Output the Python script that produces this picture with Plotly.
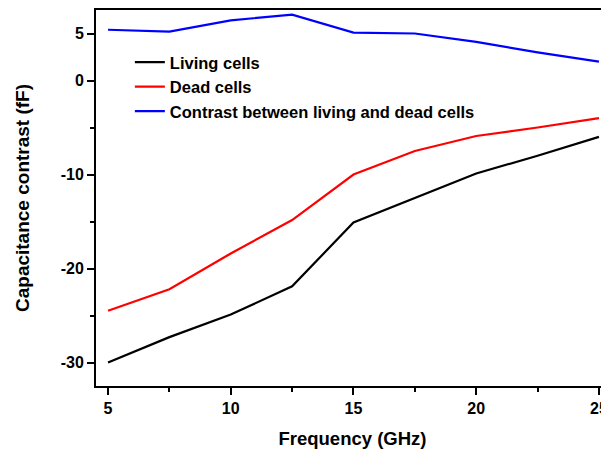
import plotly.graph_objects as go

freq = [5, 7.5, 10, 12.5, 15, 17.5, 20, 22.5, 25]
living = [-30.0, -27.3, -24.9, -21.9, -15.1, -12.5, -9.9, -8.0, -6.0]
dead = [-24.5, -22.2, -18.4, -14.85, -10.0, -7.5, -5.9, -5.0, -4.0]
contrast = [5.4, 5.2, 6.4, 7.0, 5.1, 5.0, 4.1, 3.0, 2.0]

names = ["Living cells", "Dead cells", "Contrast between living and dead cells"]
colors = ["black", "#ff0000", "#0000ff"]

x_ticks = [5, 10, 15, 20, 25]
x_ticktext = ["5", "10", "15", "20", "25"]
y_ticks = [5, 0, -10, -20, -30]
y_ticktext = ["5", "0", "-10", "-20", "-30"]

FONT = "Liberation Sans, Arial, sans-serif"

fig = go.Figure()
for name, ys, c in zip(names, [living, dead, contrast], colors):
    fig.add_trace(go.Scatter(x=freq, y=ys, mode="lines", name=name,
                             line=dict(color=c, width=2.2)))

# page body has an 8px default margin; figure is sized/offset to compensate
fig.update_layout(
    width=601, height=442,
    margin=dict(l=88, r=0, t=2, b=64),
    paper_bgcolor="white", plot_bgcolor="white",
    font=dict(family=FONT, color="black"),
    showlegend=True,
    legend=dict(x=0.066, y=0.907, xanchor="left", yanchor="top",
                bgcolor="rgba(0,0,0,0)", font=dict(size=16.5, family=FONT, weight="bold")),
)
fig.update_xaxes(
    range=[4.51, 25.41], showgrid=False, zeroline=False, automargin=False,
    showline=True, linecolor="black", linewidth=2, mirror=True,
    tickvals=x_ticks, ticktext=x_ticktext, ticks="outside", ticklen=7, tickwidth=1.5, tickcolor="black",
    minor=dict(tickvals=[7.5, 12.5, 17.5, 22.5], ticks="outside", ticklen=4, tickwidth=1.5, tickcolor="black"),
    tickfont=dict(size=16, family=FONT, weight="bold"),
    title=dict(text="Frequency (GHz)", font=dict(size=18.5, family=FONT, weight="bold"), standoff=16),
)
fig.update_yaxes(
    range=[-32.5, 7.5], showgrid=False, zeroline=False, automargin=False,
    showline=True, linecolor="black", linewidth=2,
    tickvals=y_ticks, ticktext=y_ticktext, ticks="outside", ticklen=7, tickwidth=1.5, tickcolor="black",
    minor=dict(tickvals=[-5, -15, -25], ticks="outside", ticklen=4, tickwidth=1.5, tickcolor="black"),
    tickfont=dict(size=16, family=FONT, weight="bold"),
    title=dict(text="Capacitance contrast (fF)", font=dict(size=19, family=FONT, weight="bold"), standoff=26),
)

fig.write_html("out.html")
